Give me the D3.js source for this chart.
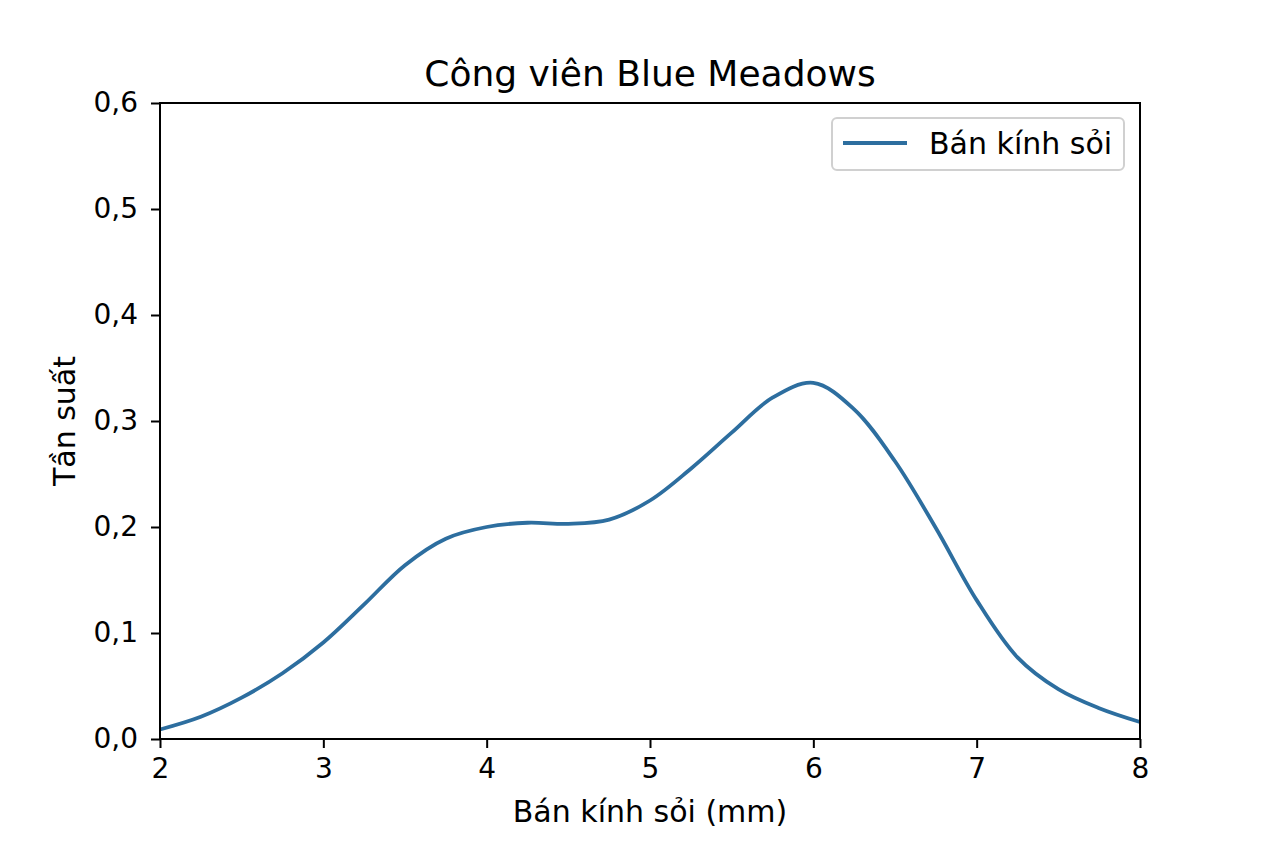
<!DOCTYPE html>
<html>
<head>
<meta charset="utf-8">
<script src="https://cdn.jsdelivr.net/npm/d3@7"></script>
<style>
  body { margin: 0; background: #fff; }
  svg { font-family: "DejaVu Sans", sans-serif; }
</style>
</head>
<body>
<div id="chart"></div>
<script>
// radius (mm) vs frequency
const radius = [2.0, 2.25, 2.5, 2.75, 3.0, 3.25, 3.5, 3.75, 4.0, 4.25, 4.5, 4.75,
                5.0, 5.25, 5.5, 5.75, 6.0, 6.25, 6.5, 6.75, 7.0, 7.25, 7.5, 7.75, 8.0];
const freq = [0.009, 0.021, 0.039, 0.062, 0.091, 0.127, 0.164, 0.189, 0.200, 0.204, 0.203, 0.207,
              0.225, 0.255, 0.289, 0.322, 0.336, 0.311, 0.262, 0.199, 0.131, 0.077, 0.047, 0.029, 0.016];
const xTicks = [2, 3, 4, 5, 6, 7, 8];
const yTicks = [0, 0.1, 0.2, 0.3, 0.4, 0.5, 0.6];
const title = "Công viên Blue Meadows";
const xLabel = "Bán kính sỏi (mm)";
const yLabel = "Tần suất";
const seriesName = "Bán kính sỏi";

const width = 1264, height = 843;
const margin = {top: 103, right: 124, bottom: 104, left: 160};
const innerW = width - margin.left - margin.right;
const innerH = height - margin.top - margin.bottom;
const lineColor = "#2d6e9f";

const svg = d3.select("#chart").append("svg")
    .attr("width", width).attr("height", height);

const x = d3.scaleLinear().domain([2, 8]).range([0, innerW]);
const y = d3.scaleLinear().domain([0, 0.6]).range([innerH, 0]);

const g = svg.append("g").attr("transform", `translate(${margin.left},${margin.top})`);

const fmt = d => d3.format(".1f")(d).replace(".", ",");

// axes
const xAxis = g.append("g")
    .attr("transform", `translate(0,${innerH})`)
    .call(d3.axisBottom(x).tickValues(xTicks).tickSize(9).tickPadding(10).tickFormat(d3.format("d")));
const yAxis = g.append("g")
    .call(d3.axisLeft(y).tickValues(yTicks).tickSize(9).tickPadding(13).tickFormat(fmt));
[xAxis, yAxis].forEach(a => {
    a.selectAll(".domain").remove();
    a.selectAll("line").attr("stroke", "#000").attr("stroke-width", 2);
    a.selectAll("text").attr("fill", "#000").attr("font-size", 28)
        .attr("font-family", "DejaVu Sans, sans-serif");
});

// line
g.append("path")
    .datum(radius.map((r, i) => ({r: r, f: freq[i]})))
    .attr("fill", "none")
    .attr("stroke", lineColor)
    .attr("stroke-width", 3.8)
    .attr("d", d3.line().x(d => x(d.r)).y(d => y(d.f)).curve(d3.curveCatmullRom.alpha(0.5)));

// frame
g.append("rect")
    .attr("width", innerW).attr("height", innerH)
    .attr("fill", "none").attr("stroke", "#000").attr("stroke-width", 2);

// title and labels
svg.append("text")
    .attr("x", margin.left + innerW / 2).attr("y", 86)
    .attr("text-anchor", "middle").attr("font-size", 36).attr("fill", "#000")
    .text(title);
svg.append("text")
    .attr("x", margin.left + innerW / 2).attr("y", 822)
    .attr("text-anchor", "middle").attr("font-size", 30).attr("fill", "#000")
    .text(xLabel);
svg.append("text")
    .attr("transform", `translate(75,${margin.top + innerH / 2}) rotate(-90)`)
    .attr("text-anchor", "middle").attr("font-size", 30).attr("fill", "#000")
    .text(yLabel);

// legend
const leg = svg.append("g").attr("transform", "translate(832,118)");
leg.append("rect")
    .attr("width", 292).attr("height", 52).attr("rx", 5)
    .attr("fill", "#fff").attr("stroke", "#d0d0d0").attr("stroke-width", 2);
leg.append("line")
    .attr("x1", 11).attr("x2", 75).attr("y1", 25).attr("y2", 25)
    .attr("stroke", lineColor).attr("stroke-width", 3.8);
leg.append("text")
    .attr("x", 97).attr("y", 36).attr("font-size", 30).attr("fill", "#000")
    .text(seriesName);
</script>
</body>
</html>
